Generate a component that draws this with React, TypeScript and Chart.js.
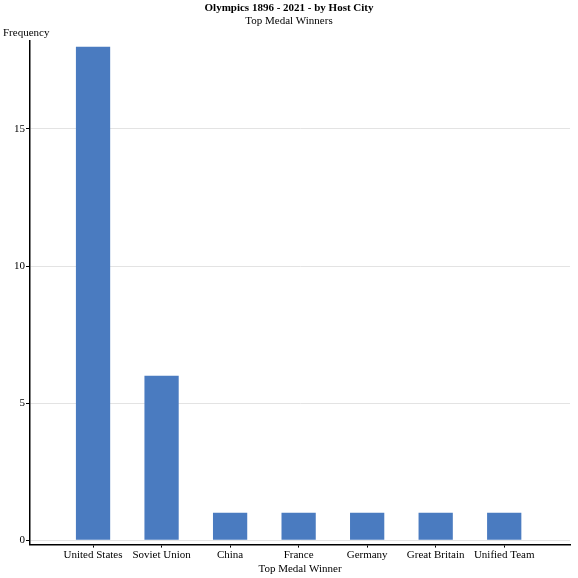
import { useEffect, useRef } from "react";
import { Chart, registerables } from "chart.js";

Chart.register(...registerables);

const categories = [
  "United States",
  "Soviet Union",
  "China",
  "France",
  "Germany",
  "Great Britain",
  "Unified Team",
];
const frequency = [18, 6, 1, 1, 1, 1, 1];
const yTicks = [0, 5, 10, 15];

const FONT = "'Liberation Serif', 'Times New Roman', serif";

// horizontal y axis title above the axis
const yTitlePlugin = {
  id: "yTitle",
  afterDraw(chart: any) {
    const ctx = chart.ctx;
    ctx.save();
    ctx.font = `11px ${FONT}`;
    ctx.fillStyle = "#000";
    ctx.textAlign = "left";
    ctx.textBaseline = "middle";
    ctx.fillText("Frequency", 3, 33);
    ctx.restore();
  },
};

const App = () => {
  const chartRef = useRef<HTMLCanvasElement | null>(null);
  const chartInstance = useRef<Chart | null>(null);

  useEffect(() => {
    document.body.style.margin = "0";
    if (chartInstance.current) {
      chartInstance.current.destroy();
    }
    if (!chartRef.current) return;

    chartInstance.current = new Chart(chartRef.current, {
      type: "bar",
      data: {
        datasets: [
          {
            label: "Frequency",
            data: frequency.map((v, i) => ({ x: i, y: v })),
            backgroundColor: "#4a7bc0",
            barPercentage: 0.5,
            categoryPercentage: 1,
          },
        ],
      },
      options: {
        responsive: true,
        maintainAspectRatio: false,
        animation: false,
        layout: {
          padding: { left: 8, right: 8, top: 0, bottom: 2 },
        },
        plugins: {
          legend: { display: false },
          tooltip: { enabled: false },
          title: {
            display: true,
            text: "Olympics 1896 - 2021 - by Host City",
            color: "#000",
            font: { family: FONT, size: 11, weight: "bold", lineHeight: 1 },
            padding: { top: 3, bottom: 1 },
          },
          subtitle: {
            display: true,
            text: "Top Medal Winners",
            color: "#000",
            font: { family: FONT, size: 11 },
            padding: { top: 0, bottom: 13 },
          },
        },
        scales: {
          x: {
            type: "linear",
            offset: false,
            min: -0.92,
            max: 6.96,
            afterBuildTicks: (scale: any) => {
              scale.ticks = categories.map((_, i) => ({ value: i }));
            },
            ticks: {
              color: "#000",
              font: { family: FONT, size: 11 },
              padding: 1,
              maxRotation: 0,
              autoSkip: false,
              callback: (value: any) => categories[Number(value)] ?? "",
            },
            grid: {
              display: true,
              offset: false,
              drawOnChartArea: false,
              drawTicks: true,
              tickColor: "#000",
              tickLength: 3,
            },
            border: { color: "#000", width: 1.5 },
            title: {
              display: true,
              text: "Top Medal Winner",
              color: "#000",
              font: { family: FONT, size: 11 },
              padding: { top: 0, bottom: 0 },
            },
          },
          y: {
            min: -0.157,
            max: 18.2,
            afterBuildTicks: (scale: any) => {
              scale.ticks = yTicks.map((v) => ({ value: v }));
            },
            afterFit: (scale: any) => {
              scale.width = 22;
            },
            ticks: {
              color: "#000",
              font: { family: FONT, size: 11 },
              padding: 1,
            },
            grid: {
              color: "#e3e3e3",
              lineWidth: 1,
              tickColor: "#000",
              tickLength: 4,
            },
            border: { color: "#000", width: 1.5 },
          },
        },
      },
      plugins: [yTitlePlugin],
    });

    return () => {
      if (chartInstance.current) {
        chartInstance.current.destroy();
        chartInstance.current = null;
      }
    };
  }, []);

  return (
    <div style={{ width: "578px", height: "578px" }}>
      <canvas ref={chartRef} />
    </div>
  );
};

export default App;
